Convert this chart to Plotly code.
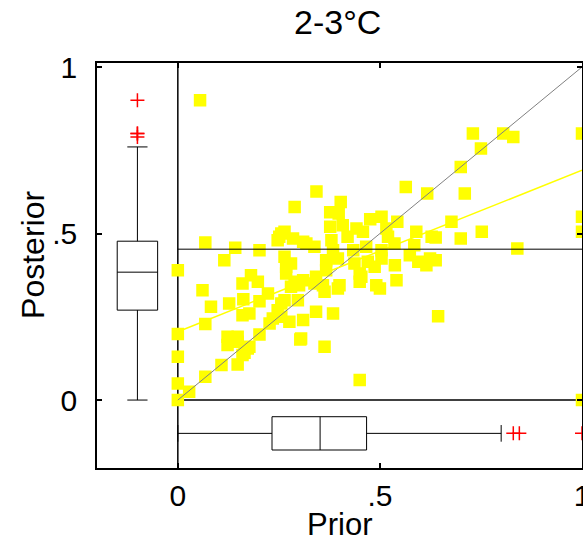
import plotly.graph_objects as go

# ---- data ----
prior = [0.055, 0.73, 0.805, 0.83, 0.75, 0.70, 1.0, 0.564, 0.617, 0.71,
         0.343, 0.289, 0.403, 0.377, 0.398, 0.677, 0.476, 0.504, 0.543, 0.377,
         0.442, 0.458, 0.59, 0.638, 0.70, 0.752, 0.84, 1.0, 1.0, 0.264,
         0.285, 0.318, 0.338, 0.38, 0.42, 0.52, 0.585, 0.536, 0.638, 0.615,
         0.256, 0.247, 0.31, 0.068, 0.142, 0.202, 0.115, 0.0, 0.264, 0.268,
         0.268, 0.181, 0.198, 0.16, 0.061, 0.289, 0.28, 0.082, 0.127, 0.162,
         0.223, 0.202, 0.16, 0.177, 0.068, 0.0, 0.136, 0.148, 0.123, 0.177,
         0.165, 0.202, 0.0, 0.108, 0.148, 0.068, 0.0, 0.028, 0.0, 0.235,
         0.247, 0.256, 0.251, 0.264, 0.256, 0.227, 0.276, 0.305, 0.123, 0.148,
         0.173, 0.16, 0.30, 0.408, 0.516, 0.628, 0.384, 0.434, 0.466, 0.504,
         0.595, 0.624, 0.367, 0.396, 0.437, 0.47, 0.504, 0.487, 0.537, 0.574,
         0.367, 0.454, 0.491, 0.541, 0.31, 0.342, 0.359, 0.40, 0.644, 0.45,
         0.363, 0.303, 0.31, 0.342, 0.384, 0.363, 0.396, 0.338, 0.50, 0.45,
         0.297, 0.28, 0.45, 1.0]
posterior = [0.90, 0.80, 0.80, 0.79, 0.755, 0.70, 0.80, 0.64, 0.62, 0.62,
             0.626, 0.58, 0.595, 0.564, 0.56, 0.535, 0.543, 0.55, 0.535, 0.52,
             0.515, 0.505, 0.505, 0.488, 0.485, 0.505, 0.455, 0.55, 0.505, 0.505,
             0.485, 0.47, 0.46, 0.48, 0.49, 0.49, 0.465, 0.47, 0.42, 0.405,
             0.50, 0.48, 0.475, 0.473, 0.457, 0.45, 0.42, 0.39, 0.43, 0.40,
             0.38, 0.375, 0.355, 0.35, 0.33, 0.355, 0.34, 0.28, 0.29, 0.303,
             0.32, 0.297, 0.255, 0.26, 0.228, 0.198, 0.18, 0.175, 0.165, 0.16,
             0.142, 0.197, 0.13, 0.105, 0.107, 0.07, 0.05, 0.025, 0.0, 0.245,
             0.27, 0.29, 0.49, 0.30, 0.25, 0.23, 0.235, 0.185, 0.19, 0.19,
             0.155, 0.135, 0.345, 0.525, 0.515, 0.49, 0.45, 0.45, 0.46, 0.45,
             0.415, 0.425, 0.42, 0.425, 0.41, 0.415, 0.425, 0.40, 0.405, 0.435,
             0.39, 0.37, 0.345, 0.36, 0.36, 0.37, 0.345, 0.345, 0.252, 0.06,
             0.16, 0.182, 0.24, 0.265, 0.26, 0.325, 0.335, 0.35, 0.335, 0.38,
             0.30, 0.41, 0.355, 0.0]

# box-plot summaries (as drawn)
post_box = dict(q1=0.27, median=0.384, q3=0.477, low=0.0, high=0.76)
prior_box = dict(q1=0.233, median=0.352, q3=0.467, low=0.0, high=0.80)
post_outliers = [0.90, 0.80, 0.79, 0.80]
prior_outliers = [0.83, 0.845, 1.0]

fit_x = [0.0, 1.0]
fit_y = [0.205, 0.69]
diag_x = [0.0, 1.0]
diag_y = [0.0, 1.0]
mean_post = 0.453
box_pos = -0.1

tick_vals = [0, 0.5, 1]
tick_text = ["0", ".5", "1"]

FONT = "Liberation Sans, Arial, Helvetica, sans-serif"

fig = go.Figure()

# scatter
fig.add_trace(go.Scatter(
    x=prior, y=posterior, mode="markers",
    marker=dict(symbol="square", size=10, color="#ffff00",
                line=dict(color="#ffff00", width=2.5)),
    cliponaxis=False, showlegend=False, hoverinfo="skip"))

# lines
fig.add_trace(go.Scatter(x=diag_x, y=diag_y, mode="lines",
                         line=dict(color="#808080", width=1), showlegend=False))
fig.add_trace(go.Scatter(x=fit_x, y=fit_y, mode="lines",
                         line=dict(color="#ffff00", width=1.5), showlegend=False))
fig.add_trace(go.Scatter(x=[0, 1], y=[mean_post, mean_post], mode="lines",
                         line=dict(color="black", width=1), showlegend=False))

# marginal boxes
fig.add_trace(go.Box(
    x=[box_pos], q1=[post_box["q1"]], median=[post_box["median"]],
    q3=[post_box["q3"]], lowerfence=[post_box["low"]],
    upperfence=[post_box["high"]], width=0.1, whiskerwidth=0.5,
    fillcolor="white", line=dict(color="black", width=1),
    boxpoints=False, showlegend=False, orientation="v"))
fig.add_trace(go.Box(
    y=[box_pos], q1=[prior_box["q1"]], median=[prior_box["median"]],
    q3=[prior_box["q3"]], lowerfence=[prior_box["low"]],
    upperfence=[prior_box["high"]], width=0.1, whiskerwidth=0.5,
    fillcolor="white", line=dict(color="black", width=1),
    boxpoints=False, showlegend=False, orientation="h"))

# outliers
fig.add_trace(go.Scatter(
    x=[box_pos] * len(post_outliers), y=post_outliers, mode="markers",
    marker=dict(symbol="cross-thin", size=10, line=dict(color="red", width=1.5)),
    showlegend=False))
fig.add_trace(go.Scatter(
    x=prior_outliers, y=[box_pos] * len(prior_outliers), mode="markers",
    marker=dict(symbol="cross-thin", size=10, line=dict(color="red", width=1.5)),
    cliponaxis=False, showlegend=False))

# inner frame
fig.add_shape(type="line", x0=0, x1=0, y0=0, y1=1, yref="paper", xref="x",
              line=dict(color="black", width=1.5), layer="below")
fig.add_shape(type="line", x0=0, x1=1, y0=0, y1=0, xref="x", yref="y",
              line=dict(color="black", width=1.5), layer="below")

axis_common = dict(showgrid=False, zeroline=False, showline=True,
                   linecolor="black", linewidth=1.5, mirror="ticks",
                   ticks="inside", ticklen=5, tickcolor="black", tickwidth=1.5,
                   tickvals=tick_vals, ticktext=tick_text, automargin=False,
                   ticklabeloverflow="allow",
                   tickfont=dict(family=FONT, size=30, color="black"))

fig.update_layout(
    width=583, height=541,
    margin=dict(l=97, r=1, t=63, b=73, autoexpand=False),
    paper_bgcolor="white", plot_bgcolor="white",
    xaxis=dict(range=[-0.2, 1.0], ticklabelstandoff=0, **axis_common),
    yaxis=dict(range=[-0.204, 1.012], ticklabelstandoff=12, **axis_common),
    boxgap=0, boxgroupgap=0,
    annotations=[
        dict(text="2-3°C", xref="paper", yref="paper", x=0.495, y=1.101,
             xanchor="center", yanchor="middle", showarrow=False,
             font=dict(family=FONT, size=34, color="black")),
        dict(text="Prior", xref="paper", yref="paper", x=0.501, y=-0.139,
             xanchor="center", yanchor="middle", showarrow=False,
             font=dict(family=FONT, size=31, color="black")),
        dict(text="Posterior", xref="paper", yref="paper", x=-0.132, y=0.526,
             xanchor="center", yanchor="middle", showarrow=False, textangle=-90,
             font=dict(family=FONT, size=32, color="black")),
    ],
)

fig.write_html(
    "out.html",
    config={"displayModeBar": False},
    post_script="document.body.style.margin='0px';"
                "document.body.style.overflow='hidden';",
)
